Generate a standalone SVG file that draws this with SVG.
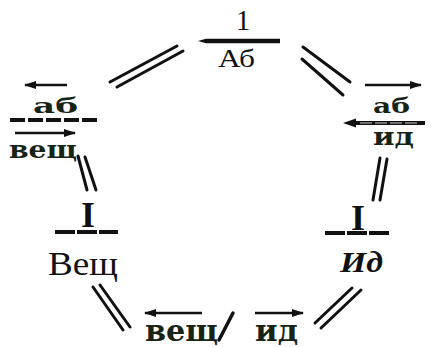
<svg xmlns="http://www.w3.org/2000/svg" width="433" height="347" viewBox="0 0 433 347">
<style>
.c{stroke:#111;stroke-width:3;stroke-linecap:round;fill:none}
.ar{stroke:#111;stroke-width:2.6;fill:none}
.tw{font-family:"DejaVu Serif","Liberation Serif",serif;font-weight:bold;fill:#162416}
.sf{font-family:"Liberation Serif","Times New Roman",serif;fill:#111}
.bar{stroke:#111;stroke-width:4;fill:none}
</style>
<defs>
<marker id="ah" viewBox="0 0 12 8" refX="11" refY="4" markerWidth="12" markerHeight="8" markerUnits="userSpaceOnUse" orient="auto-start-reverse">
<path d="M0,0 L12,4 L0,8 Z" fill="#111"/>
</marker>
</defs>
<rect width="433" height="347" fill="#fff"/>
<g id="connectors">
<line class="c" x1="110" y1="82" x2="177" y2="46"/>
<line class="c" x1="117" y1="87" x2="183" y2="51"/>
<line class="c" x1="303" y1="47" x2="350" y2="82"/>
<line class="c" x1="302" y1="59" x2="343" y2="95"/>
<line class="c" x1="78" y1="156" x2="87" y2="190"/>
<line class="c" x1="85" y1="157" x2="96" y2="190"/>
<line class="c" x1="380" y1="158" x2="373" y2="200"/>
<line class="c" x1="387" y1="159" x2="380" y2="200"/>
<line class="c" x1="93" y1="287" x2="123" y2="330"/>
<line class="c" x1="100" y1="285" x2="130" y2="327"/>
<line class="c" x1="352" y1="288" x2="315" y2="323"/>
<line class="c" x1="361" y1="290" x2="321" y2="328"/>
</g>
<g id="node-top">
<text class="sf" x="243" y="30" font-size="29" text-anchor="middle">1</text>
<path d="M198,41 L206,38.8 L280,38.8 L280,43.2 L206,43.2 Z" fill="#111"/>
<text class="sf" x="218" y="67" font-size="25" textLength="37" lengthAdjust="spacingAndGlyphs">Аб</text>
</g>
<g id="node-top-left">
<line class="ar" x1="67" y1="85" x2="25" y2="85" marker-end="url(#ah)"/>
<text class="tw" x="33" y="113" font-size="21" textLength="45" lengthAdjust="spacingAndGlyphs">аб</text>
<line class="bar" x1="10" y1="120" x2="100" y2="120" stroke-dasharray="15 3"/>
<line class="ar" x1="15" y1="133" x2="75" y2="133" marker-end="url(#ah)"/>
<text class="tw" x="9" y="158" font-size="24" textLength="68" lengthAdjust="spacingAndGlyphs">вещ</text>
</g>
<g id="node-top-right">
<line class="ar" x1="365" y1="85" x2="421" y2="85" marker-end="url(#ah)"/>
<text class="tw" x="373" y="113" font-size="21" textLength="37" lengthAdjust="spacingAndGlyphs">аб</text>
<line class="bar" x1="425" y1="123" x2="352" y2="123"/>
<path d="M343,123 L356,118.5 L356,127.5 Z" fill="#111"/>
<line x1="360" y1="123" x2="420" y2="123" stroke="#fff" stroke-width="0.8" stroke-dasharray="12 3"/>
<text class="tw" x="373" y="145" font-size="24" textLength="41" lengthAdjust="spacingAndGlyphs">ид</text>
</g>
<g id="node-left">
<text class="sf" x="88" y="227" font-size="36" font-weight="bold" text-anchor="middle">I</text>
<line class="bar" x1="55" y1="232" x2="118" y2="232" stroke-width="3.5" stroke-dasharray="20 2"/>
<text class="sf" x="48" y="275" font-size="34" textLength="70" lengthAdjust="spacingAndGlyphs">Вещ</text>
</g>
<g id="node-right">
<text class="sf" x="358" y="230" font-size="36" font-weight="bold" text-anchor="middle">I</text>
<line class="bar" x1="325" y1="233" x2="390" y2="233" stroke-width="3.5" stroke-dasharray="20 2"/>
<text class="sf" x="340" y="272" font-size="30" font-weight="bold" font-style="italic" textLength="43" lengthAdjust="spacingAndGlyphs">Ид</text>
</g>
<g id="node-bottom">
<line class="ar" x1="202" y1="313" x2="145" y2="313" marker-end="url(#ah)"/>
<text class="tw" x="145" y="341" font-size="30" textLength="73" lengthAdjust="spacingAndGlyphs">вещ</text>
<line x1="233" y1="313" x2="219" y2="340" stroke="#111" stroke-width="3.5" stroke-linecap="round"/>
<line class="ar" x1="255" y1="313" x2="303" y2="313" marker-end="url(#ah)"/>
<text class="tw" x="255" y="341" font-size="30" textLength="43" lengthAdjust="spacingAndGlyphs">ид</text>
</g>
</svg>
